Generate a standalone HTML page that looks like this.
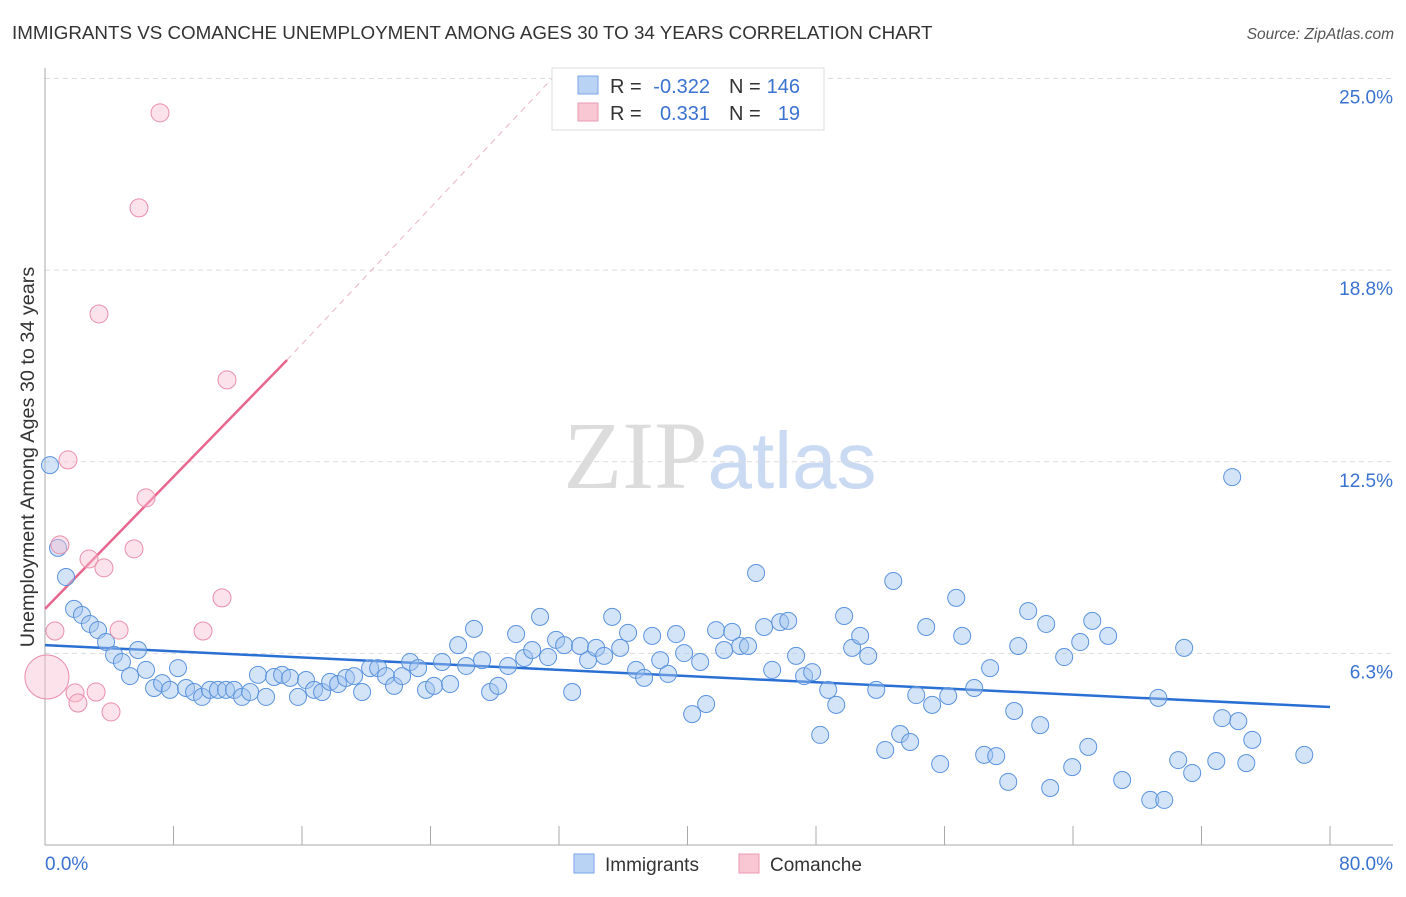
<!DOCTYPE html>
<html><head><meta charset="utf-8"><style>
body{margin:0;background:#fff;font-family:"Liberation Sans",sans-serif;}
svg text{font-family:"Liberation Sans",sans-serif;}
</style></head><body>
<svg width="1406" height="892" viewBox="0 0 1406 892" xmlns="http://www.w3.org/2000/svg" id="svg">
<text x="12" y="39" font-size="18.8" fill="#333">IMMIGRANTS VS COMANCHE UNEMPLOYMENT AMONG AGES 30 TO 34 YEARS CORRELATION CHART</text>
<text x="1394" y="39" font-size="15.5" fill="#555" text-anchor="end" font-style="italic">Source: ZipAtlas.com</text>
<text x="720" y="488" font-size="96" text-anchor="middle"><tspan font-family="Liberation Serif" fill="#dcdcdc">ZIP</tspan><tspan fill="#c9daf2" font-size="80">atlas</tspan></text>
<g id="grid"></g>
<g id="ticks"></g>
<g id="trend"></g>
<g id="pts"></g>
<text transform="translate(34,457) rotate(-90)" font-size="19.8" fill="#333" text-anchor="middle">Unemployment Among Ages 30 to 34 years</text>
<g>
<rect x="552" y="68" width="272" height="62" fill="#fff" stroke="#ddd"/>
<rect x="578" y="76" width="20" height="18" fill="#b9d3f5" stroke="#7aa6e6"/>
<rect x="578" y="103" width="20" height="18" fill="#f9c6d4" stroke="#ec9ab2"/>
<text x="610" y="93" font-size="20" fill="#333">R =</text>
<text x="710" y="93" font-size="20" fill="#3a72d0" text-anchor="end">-0.322</text>
<text x="729" y="93" font-size="20" fill="#333">N =</text>
<text x="800" y="93" font-size="20" fill="#3a72d0" text-anchor="end">146</text>
<text x="610" y="120" font-size="20" fill="#333">R =</text>
<text x="710" y="120" font-size="20" fill="#3a72d0" text-anchor="end">0.331</text>
<text x="729" y="120" font-size="20" fill="#333">N =</text>
<text x="800" y="120" font-size="20" fill="#3a72d0" text-anchor="end">19</text>
</g>
<g>
<rect x="574" y="854" width="20" height="19" fill="#b9d3f5" stroke="#7aa6e6"/>
<text x="605" y="871" font-size="19" fill="#333">Immigrants</text>
<rect x="739" y="854" width="20" height="19" fill="#f9c6d4" stroke="#ec9ab2"/>
<text x="770" y="871" font-size="19" fill="#333">Comanche</text>
</g>
</svg>
<script>
const yTicks=[6.25,12.5,18.75,25];
const yTickLabels=["6.3%","12.5%","18.8%","25.0%"];
const xTickLabels=["0.0%","80.0%"];
const blueX=[0.31,0.81,1.31,1.81,2.30,2.80,3.30,3.80,4.30,4.79,5.29,5.79,6.29,6.79,7.29,7.78,8.28,8.78,9.28,9.78,10.27,10.77,11.27,11.77,12.27,12.77,13.26,13.76,14.26,14.76,15.26,15.75,16.25,16.75,17.25,17.75,18.25,18.74,19.24,19.74,20.24,20.74,21.23,21.73,22.23,22.73,23.23,23.72,24.22,24.72,25.22,25.72,26.22,26.71,27.21,27.71,28.21,28.83,29.33,29.83,30.33,30.82,31.32,31.82,32.32,32.82,33.31,33.81,34.31,34.81,35.31,35.81,36.30,36.80,37.30,37.80,38.30,38.79,39.29,39.79,40.29,40.79,41.16,41.78,42.28,42.78,43.28,43.77,44.27,44.77,45.27,45.77,46.27,46.76,47.26,47.76,48.26,48.76,49.26,49.75,50.25,50.75,51.25,51.75,52.31,52.81,53.24,53.86,54.24,54.86,55.23,55.73,56.23,56.73,57.10,57.85,58.47,58.84,59.22,59.97,60.34,60.59,61.21,61.96,62.33,62.58,63.45,63.95,64.45,64.95,65.20,66.19,67.06,68.81,69.31,69.68,70.55,70.92,71.42,72.92,73.29,73.91,74.29,74.79,75.16,78.40];
const blueY=[12.39,9.69,8.74,7.70,7.50,7.21,7.01,6.62,6.20,5.97,5.51,6.36,5.71,5.12,5.28,5.06,5.77,5.12,4.99,4.83,5.06,5.06,5.06,5.06,4.83,4.99,5.55,4.83,5.48,5.55,5.45,4.83,5.38,5.06,4.99,5.32,5.25,5.45,5.51,4.99,5.77,5.77,5.51,5.19,5.51,5.97,5.77,5.06,5.19,5.97,5.25,6.52,5.84,7.05,6.03,4.99,5.19,5.84,6.88,6.10,6.36,7.44,6.13,6.69,6.52,4.99,6.49,6.03,6.43,6.17,7.44,6.43,6.92,5.71,5.45,6.82,6.03,5.58,6.88,6.26,4.27,5.97,4.60,7.01,6.36,6.95,6.49,6.49,8.87,7.11,5.71,7.27,7.31,6.17,5.51,5.64,3.59,5.06,4.57,7.47,6.43,6.82,6.17,5.06,3.10,8.61,3.62,3.36,4.89,7.11,4.57,2.64,4.86,8.06,6.82,5.12,2.94,5.77,2.90,2.06,4.37,6.49,7.63,3.91,7.21,1.86,6.13,2.54,6.62,3.20,7.31,6.82,2.12,1.47,4.80,1.47,2.77,6.43,2.35,2.74,4.14,12.00,4.04,2.67,3.43,2.94];
const pinkX=[0.12,0.62,0.93,1.43,1.87,2.05,2.74,3.18,3.36,3.67,4.11,4.61,5.54,5.85,6.29,7.16,9.84,11.02,11.33];
const pinkY=[5.48,6.98,9.79,12.56,4.96,4.63,9.33,4.99,17.32,9.04,4.34,7.01,9.66,20.78,11.32,23.88,6.98,8.06,15.17];
const pinkR=[22,9,9,9,9,9,9,9,9,9,9,9,9,9,9,9,9,9,9];
const blueTrend=[[0,6.52],[80,4.50]];
const pinkTrend=[[0,7.70],[15.07,15.82]];
const pinkDash=[[15.07,15.82],[31.57,25]];

const X=v=>45+v/80*1285, Y=v=>845-v*30.66;
const NS="http://www.w3.org/2000/svg";
function mk(parent,tag,attrs){const e=document.createElementNS(NS,tag);for(const k in attrs)e.setAttribute(k,attrs[k]);document.getElementById(parent).appendChild(e);return e;}
yTicks.forEach((t,i)=>{
  const g=mk('grid','line',{x1:45,x2:1393,y1:Y(t),y2:Y(t),stroke:'#dcdcdc','stroke-dasharray':'5,4'});
  
  
  const l=mk('grid','text',{x:1393,y:Y(t)+25,'font-size':19,fill:'#3a72d0','text-anchor':'end'});
  l.textContent=yTickLabels[i];
  
  
});
const al=mk('ticks','line',{x1:45,x2:45,y1:68,y2:845,stroke:'#aaa'});


const bl=mk('ticks','line',{x1:45,x2:1393,y1:845,y2:845,stroke:'#aaa'});


for(let v=8;v<=80;v+=8){const t=mk('ticks','line',{x1:X(v),x2:X(v),y1:826,y2:845,stroke:'#aaa'});
  
  }
[[0,'start',45],[80,'end',1393]].forEach((d,i)=>{const t=mk('ticks','text',{x:d[2],y:870,'font-size':19,fill:'#3a72d0','text-anchor':d[1]});t.textContent=xTickLabels[i];
  
  });
blueX.forEach((x,i)=>{const c=mk('pts','circle',{cx:X(x),cy:Y(blueY[i]),r:8.5,fill:'rgba(160,195,240,0.45)',stroke:'#5b93dc','stroke-width':1});
  
  });
pinkX.forEach((x,i)=>{const c=mk('pts','circle',{cx:X(x),cy:Y(pinkY[i]),r:pinkR[i],fill:'rgba(248,190,208,0.45)',stroke:'#e98fab','stroke-width':1});
  
  });
const bt=mk('trend','line',{x1:X(blueTrend[0][0]),y1:Y(blueTrend[0][1]),x2:X(blueTrend[1][0]),y2:Y(blueTrend[1][1]),stroke:'#2a6fd4','stroke-width':2.5});


const pt=mk('trend','line',{x1:X(pinkTrend[0][0]),y1:Y(pinkTrend[0][1]),x2:X(pinkTrend[1][0]),y2:Y(pinkTrend[1][1]),stroke:'#e8668e','stroke-width':2.5});


const pd=mk('trend','line',{x1:X(pinkDash[0][0]),y1:Y(pinkDash[0][1]),x2:X(pinkDash[1][0]),y2:Y(pinkDash[1][1]),stroke:'#e8b4c4','stroke-width':1,'stroke-dasharray':'6,5'});


</script>
</body></html>
